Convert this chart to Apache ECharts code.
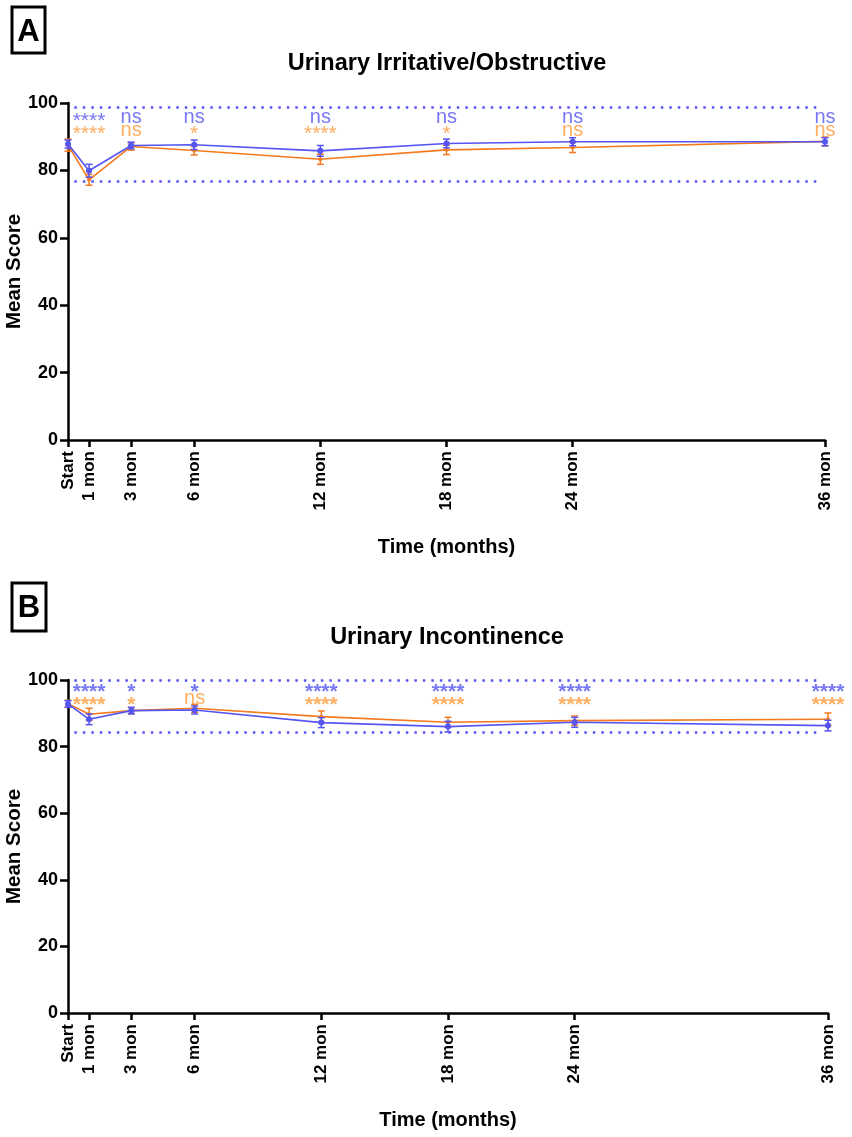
<!DOCTYPE html>
<html>
<head>
<meta charset="utf-8">
<script src="https://cdn.jsdelivr.net/npm/echarts@6/dist/echarts.min.js"></script>
<style>
  html, body { margin: 0; padding: 0; background: #fff; }
  #main { width: 852px; height: 1137px; }
</style>
</head>
<body>
<div id="main"></div>
<script>
// data
const months = [0, 1, 3, 6, 12, 18, 24, 36];
const tickLabels = ['Start', '1 mon', '3 mon', '6 mon', '12 mon', '18 mon', '24 mon', '36 mon'];
const yTicks = [0, 20, 40, 60, 80, 100];

// A: Urinary Irritative/Obstructive
const irrBlue = [87.8, 79.9, 87.4, 87.6, 85.8, 88.0, 88.5, 88.5];
const irrBlueErr = [1.2, 1.9, 1.0, 1.4, 1.6, 1.3, 1.2, 1.2];
const irrOrange = [87.5, 77.2, 87.1, 85.9, 83.3, 86.1, 86.8, 88.6];
const irrOrangeErr = [1.8, 1.6, 1.1, 1.3, 1.5, 1.4, 1.5, 1.3];
const irrRef = [98.8, 76.8];
const irrSigBlue = ['****', 'ns', 'ns', 'ns', 'ns', 'ns', 'ns'];
const irrSigOrange = ['****', 'ns', '*', '****', '*', 'ns', 'ns'];

// B: Urinary Incontinence
const incBlue = [92.8, 88.2, 90.8, 91.0, 87.2, 86.0, 87.3, 86.3];
const incBlueErr = [1.0, 1.6, 1.0, 1.2, 1.5, 1.6, 1.5, 1.6];
const incOrange = [92.9, 89.7, 90.8, 91.5, 89.0, 87.3, 87.8, 88.2];
const incOrangeErr = [1.0, 1.8, 0.9, 1.2, 1.7, 1.5, 1.4, 1.9];
const incRef = [99.8, 84.2];
const incSigBlue = ['****', '*', '*', '****', '****', '****', '****'];
const incSigOrange = ['****', '*', 'ns', '****', '****', '****', '****'];

const sigMonths = months.slice(1);
const refSpan = [0.3, 35.7];

const BLUE = '#5555F2';
const ORANGE = '#F47A1F';
const ORANGE_TXT = '#FF9A3A';
const FONT = '"Liberation Sans", Arial, Helvetica, sans-serif';

const chart = echarts.init(document.getElementById('main'));

// error bar with caps
function renderErr(params, api) {
    const x = api.value(0);
    const lo = api.coord([x, api.value(1)]);
    const hi = api.coord([x, api.value(2)]);
    const w = 3.5;
    const style = { stroke: api.visual('color'), lineWidth: 1.5 };
    return {
        type: 'group',
        children: [
            { type: 'line', shape: { x1: lo[0], y1: lo[1], x2: hi[0], y2: hi[1] }, style: style },
            { type: 'line', shape: { x1: lo[0] - w, y1: lo[1], x2: lo[0] + w, y2: lo[1] }, style: style },
            { type: 'line', shape: { x1: hi[0] - w, y1: hi[1], x2: hi[0] + w, y2: hi[1] }, style: style }
        ]
    };
}

function errData(vals, errs) {
    return months.map((m, i) => [m, vals[i] - errs[i], vals[i] + errs[i]]);
}

function lineData(vals) {
    return months.map((m, i) => [m, vals[i]]);
}

function sigData(labels, yPos, star) {
    return labels.map((t, i) => ({
        value: [sigMonths[i], yPos, t],
        label: t.indexOf('*') >= 0
            ? { fontSize: star.size, fontWeight: star.weight, offset: [0, star.offset] }
            : { fontSize: 20, fontWeight: 'normal', offset: [0, 0] }
    }));
}

function sigSeries(idx, labels, yPos, star, color) {
    return {
        type: 'scatter', xAxisIndex: idx, yAxisIndex: idx,
        data: sigData(labels, yPos, star), symbolSize: 1,
        itemStyle: { color: 'transparent' }, z: 6, silent: true,
        label: { show: true, position: 'inside', color: color, fontFamily: FONT,
            formatter: p => p.value[2] }
    };
}

function panelSeries(idx, blue, blueErr, orange, orangeErr, ref, sigB, sigO, rows, star) {
    const ax = { xAxisIndex: idx, yAxisIndex: idx };
    return [
        Object.assign({
            type: 'custom', renderItem: renderErr, data: errData(orange, orangeErr),
            itemStyle: { color: ORANGE }, z: 2, silent: true
        }, ax),
        Object.assign({
            type: 'line', data: lineData(orange), symbol: 'circle', symbolSize: 4,
            lineStyle: { color: ORANGE, width: 1.6 }, itemStyle: { color: ORANGE },
            z: 3,
            markLine: {
                silent: true, symbol: 'none', label: { show: false },
                lineStyle: { color: BLUE, type: [2.5, 6], width: 2.5, cap: 'butt' },
                data: ref.map(v => [{ coord: [refSpan[0], v] }, { coord: [refSpan[1], v] }])
            }
        }, ax),
        Object.assign({
            type: 'custom', renderItem: renderErr, data: errData(blue, blueErr),
            itemStyle: { color: BLUE }, z: 4, silent: true
        }, ax),
        Object.assign({
            type: 'line', data: lineData(blue), symbol: 'circle', symbolSize: 6,
            lineStyle: { color: BLUE, width: 1.6 }, itemStyle: { color: BLUE },
            z: 5
        }, ax),
        sigSeries(idx, sigB, rows[0], star, BLUE),
        sigSeries(idx, sigO, rows[1], star, ORANGE_TXT)
    ];
}

function xAxisCfg(idx) {
    return {
        type: 'value', gridIndex: idx, min: 0, max: 36,
        name: 'Time (months)', nameLocation: 'middle', nameGap: 97, nameMoveOverlap: false,
        nameTextStyle: { fontSize: 20, fontWeight: 'bold', color: '#000', fontFamily: FONT },
        axisLine: { show: true, lineStyle: { color: '#000', width: 2.5 } },
        axisTick: { show: true, length: 7, lineStyle: { color: '#000', width: 2.5 }, customValues: months },
        axisLabel: {
            rotate: 90, margin: 11, fontSize: 17, fontWeight: 'bold', color: '#000', fontFamily: FONT,
            customValues: months,
            formatter: v => tickLabels[months.indexOf(v)]
        },
        splitLine: { show: false }
    };
}

function yAxisCfg(idx) {
    return {
        type: 'value', gridIndex: idx, min: 0, max: 100, interval: 20,
        name: 'Mean Score', nameLocation: 'middle', nameGap: 43, nameMoveOverlap: false,
        nameTextStyle: { fontSize: 20.5, fontWeight: 'bold', color: '#000', fontFamily: FONT },
        axisLine: { show: true, lineStyle: { color: '#000', width: 2.5 } },
        axisTick: { show: true, length: 8, lineStyle: { color: '#000', width: 2.5 } },
        axisLabel: {
            margin: 10, fontSize: 18, fontWeight: 'bold', color: '#000', fontFamily: FONT,
            customValues: yTicks
        },
        splitLine: { show: false }
    };
}

const option = {
    backgroundColor: '#fff',
    animation: false,
    grid: [
        { left: 68, right: 27, top: 103, height: 337, outerBoundsMode: 'none', containLabel: false },
        { left: 68, right: 24, top: 680, height: 333, outerBoundsMode: 'none', containLabel: false }
    ],
    xAxis: [xAxisCfg(0), xAxisCfg(1)],
    yAxis: [yAxisCfg(0), yAxisCfg(1)],
    graphic: [
        { type: 'rect', shape: { x: 12, y: 7, width: 33, height: 46 },
          style: { fill: '#fff', stroke: '#000', lineWidth: 3 } },
        { type: 'text', x: 28.5, y: 32,
          style: { text: 'A', fontSize: 31, fontWeight: 'bold', fontFamily: FONT, fill: '#000',
                   textAlign: 'center', textVerticalAlign: 'middle' } },
        { type: 'rect', shape: { x: 12, y: 583, width: 34, height: 48 },
          style: { fill: '#fff', stroke: '#000', lineWidth: 3 } },
        { type: 'text', x: 29, y: 608,
          style: { text: 'B', fontSize: 31, fontWeight: 'bold', fontFamily: FONT, fill: '#000',
                   textAlign: 'center', textVerticalAlign: 'middle' } },
        { type: 'text', x: 447, y: 64,
          style: { text: 'Urinary Irritative/Obstructive', fontSize: 23.5, fontWeight: 'bold',
                   fontFamily: FONT, fill: '#000', textAlign: 'center', textVerticalAlign: 'middle' } },
        { type: 'text', x: 447, y: 638,
          style: { text: 'Urinary Incontinence', fontSize: 23.5, fontWeight: 'bold',
                   fontFamily: FONT, fill: '#000', textAlign: 'center', textVerticalAlign: 'middle' } }
    ],
    series: [].concat(
        panelSeries(0, irrBlue, irrBlueErr, irrOrange, irrOrangeErr, irrRef,
            irrSigBlue, irrSigOrange, [95.8, 91.8], { size: 21, weight: 'normal', offset: 4 }),
        panelSeries(1, incBlue, incBlueErr, incOrange, incOrangeErr, incRef,
            incSigBlue, incSigOrange, [98.2, 94.3], { size: 21, weight: 'bold', offset: 6 })
    )
};

chart.setOption(option);
</script>
</body>
</html>
